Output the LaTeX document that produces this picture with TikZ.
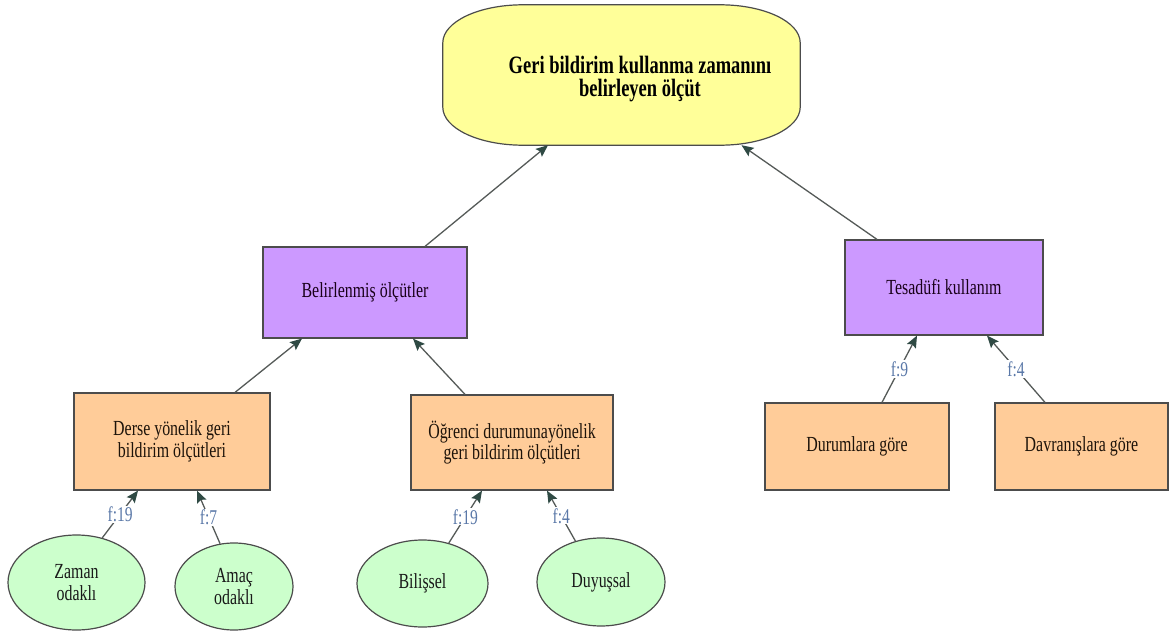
\documentclass[tikz,border=0pt]{standalone}
\usepackage{fontspec}
\setmainfont{Liberation Serif}[FakeStretch=0.74]
\usetikzlibrary{arrows.meta,shapes.geometric}
\definecolor{rootyellow}{HTML}{FFFF99}
\definecolor{critpurple}{HTML}{CC99FF}
\definecolor{suborange}{HTML}{FFCC99}
\definecolor{leafgreen}{HTML}{CCFFCC}
\definecolor{edgegray}{HTML}{555A58}
\definecolor{tipgreen}{HTML}{2F4A44}
\definecolor{freqblue}{HTML}{5A78A8}

\begin{document}
\begin{tikzpicture}[x=1pt,y=-1pt,>={Stealth[length=12pt,width=10pt,inset=2pt,color=tipgreen]},
  box/.style={draw=black!70,line width=1.2pt,align=center,inner sep=0pt,font=\fontsize{21.5}{21.5}\selectfont},
  crit/.style={box,fill=critpurple,text=black!80!violet},
  sub/.style={box,fill=suborange,text=black!85!brown},
  leaf/.style={box,ellipse,fill=leafgreen,text=black!90},
  link/.style={draw=edgegray,line width=1.3pt,->},
  freq/.style={fill=white,inner sep=1pt,text=freqblue,font=\fontsize{21}{21}\selectfont}]
  \useasboundingbox (0,0) rectangle (1171,634);

  % Top criterion (box with oval corners)
  \node[minimum width=357pt,minimum height=140pt,inner sep=0pt] (root) at (621.5,75) {};
  \draw[fill=rootyellow,draw=black!70,line width=1.2pt]
    ([xshift=80pt]root.north west) -- ([xshift=-80pt]root.north east)
    arc[start angle=90,end angle=0,x radius=80pt,y radius=38pt]
    -- ([yshift=38pt]root.south east)
    arc[start angle=0,end angle=-90,x radius=80pt,y radius=38pt]
    -- ([xshift=80pt]root.south west)
    arc[start angle=-90,end angle=-180,x radius=80pt,y radius=38pt]
    -- ([yshift=-38pt]root.north west)
    arc[start angle=180,end angle=90,x radius=80pt,y radius=38pt] -- cycle;
  \node[align=center,font=\bfseries\fontsize{25}{23}\selectfont] (roottext) at (640,79) {Geri bildirim kullanma zamanını\\belirleyen ölçüt};

  % Criteria boxes
  \node[crit,minimum width=204pt,minimum height=91pt] (belir) at (365,292.5) {Belirlenmiş ölçütler};
  \node[crit,minimum width=198pt,minimum height=95pt] (tesad) at (944,287.5) {Tesadüfi kullanım};

  % Sub criteria
  \node[sub,minimum width=196pt,minimum height=97pt] (derse) at (172,441.5) {Derse yönelik geri\\bildirim ölçütleri};
  \node[sub,minimum width=202pt,minimum height=95pt] (ogr) at (512,442.5) {Öğrenci durumunayönelik\\geri bildirim ölçütleri};
  \node[sub,minimum width=184pt,minimum height=87pt] (durum) at (857,446.5) {Durumlara göre};
  \node[sub,minimum width=173pt,minimum height=87pt] (davran) at (1081.5,446.5) {Davranışlara göre};

  % Leaves
  \node[leaf,minimum width=137pt,minimum height=95pt] (zaman) at (76.5,582.5) {Zaman\\odaklı};
  \node[leaf,minimum width=118pt,minimum height=87pt] (amac) at (234,586.5) {Amaç\\odaklı};
  \node[leaf,minimum width=131pt,minimum height=87pt] (bilis) at (422.5,583.5) {Bilişsel};
  \node[leaf,minimum width=128pt,minimum height=88pt] (duyus) at (601,582) {Duyuşsal};

  % Links to parents
  \draw[link] ([xshift=60pt]belir.north) -- ([xshift=-73.5pt]root.south);
  \draw[link] ([xshift=-67pt]tesad.north) -- ([xshift=120pt]root.south);
  \draw[link] ([xshift=63pt]derse.north) -- ([xshift=-63pt]belir.south);
  \draw[link] ([xshift=-47pt]ogr.north) -- ([xshift=48pt]belir.south);

  % Links with frequencies
  \draw[link] (zaman.60) -- node[freq] {f:19} ([xshift=-34pt]derse.south);
  \draw[link] (amac.108) -- node[freq] {f:7} ([xshift=25pt]derse.south);
  \draw[link] (bilis.57) -- node[freq] {f:19} ([xshift=-30pt]ogr.south);
  \draw[link] (duyus.122) -- node[freq] {f:4} ([xshift=35pt]ogr.south);
  \draw[link] ([xshift=25pt]durum.north) -- node[freq] {f:9} ([xshift=-27pt]tesad.south);
  \draw[link] ([xshift=-36.5pt]davran.north) -- node[freq] {f:4} ([xshift=43pt]tesad.south);
\end{tikzpicture}
\end{document}
